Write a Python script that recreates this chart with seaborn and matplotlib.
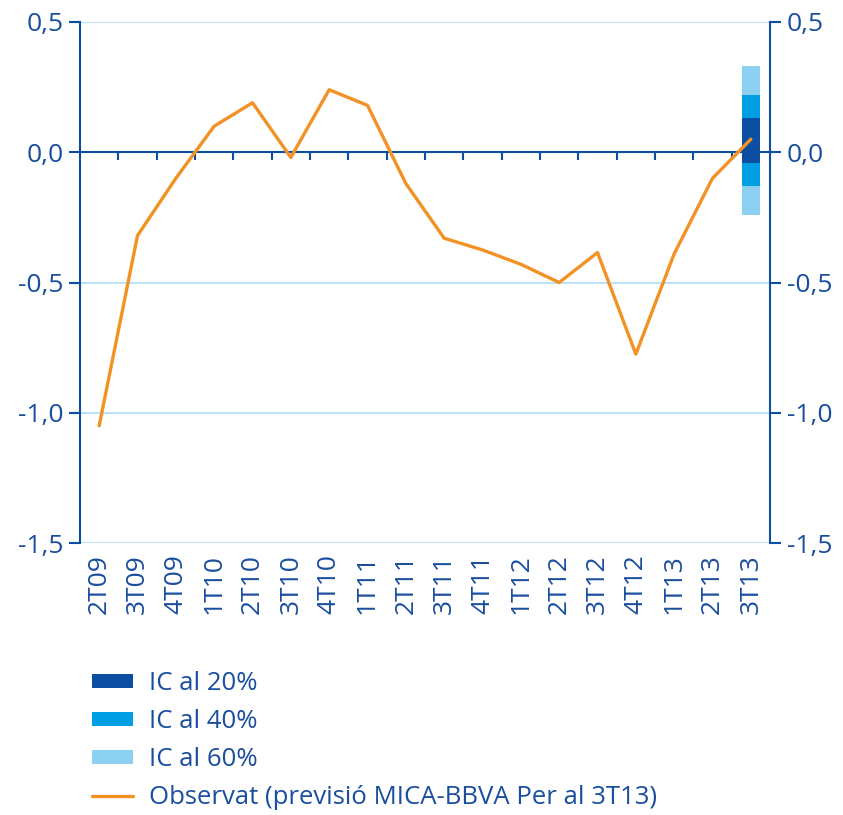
import matplotlib
matplotlib.use("Agg")
import matplotlib.pyplot as plt
import seaborn as sns
import numpy as np
import pandas as pd
from matplotlib.patches import Patch
from matplotlib.lines import Line2D

categories = ["2T09", "3T09", "4T09", "1T10", "2T10", "3T10", "4T10", "1T11", "2T11",
              "3T11", "4T11", "1T12", "2T12", "3T12", "4T12", "1T13", "2T13", "3T13"]
observat = [-1.05, -0.32, -0.10, 0.10, 0.19, -0.02, 0.24, 0.18, -0.12,
            -0.33, -0.375, -0.43, -0.50, -0.385, -0.775, -0.39, -0.10, 0.05]
ic_labels = ["IC al 60%", "IC al 40%", "IC al 20%"]
ic_low = [-0.24, -0.13, -0.04]
ic_high = [0.33, 0.22, 0.13]
ic_cat = "3T13"
yticks = [0.5, 0.0, -0.5, -1.0, -1.5]

DARK = "#0B4EA2"
MID = "#009EE2"
LIGHT = "#8CD1F2"
ORANGE = "#F39224"
GRID = "#B5E1F5"
TXT = "#1A4E9E"

sns.set_theme(style="white")
plt.rcParams['font.family'] = ['Open Sans', 'DejaVu Sans']

fig = plt.figure(figsize=(8.43, 8.15), dpi=100)
ax = fig.add_axes([80/843, 1-543/815, 690/843, 521/815])

df = pd.DataFrame({"x": np.arange(len(categories)), "y": observat})
sns.lineplot(data=df, x="x", y="y", ax=ax, color=ORANGE, linewidth=2.4, zorder=4)

xi = categories.index(ic_cat)
for lab, lo, hi, col in zip(ic_labels, ic_low, ic_high, [LIGHT, MID, DARK]):
    ax.bar([xi], [hi - lo], bottom=[lo], width=0.47, color=col, linewidth=0, zorder=3)

ax.set_xlim(-0.5, len(categories) - 0.5)
ax.set_ylim(-1.5, 0.5)
ax.set_yticks(yticks)
ax.set_yticklabels([f"{v:.1f}".replace(".", ",") for v in yticks])
ax.set_xticks(np.arange(len(categories)))
ax.set_xticklabels(categories, rotation=90)
ax.set_xlabel("")
ax.set_ylabel("")

ax.grid(axis="y", color=GRID, linewidth=1.3, zorder=0)
ax.grid(axis="x", visible=False)
for s in ["top", "bottom"]:
    ax.spines[s].set_visible(False)
ax.spines["left"].set_color(DARK)
ax.spines["left"].set_linewidth(1.5)
ax.spines["right"].set_visible(False)

TS = 19
ax.tick_params(axis="y", direction="out", length=8, width=1.5, color=DARK,
               labelcolor=TXT, labelsize=TS, pad=4, left=True)
ax.tick_params(axis="x", length=0, labelcolor=TXT, labelsize=TS, pad=8)

# zero axis
ax.axhline(0, color=DARK, linewidth=1.5, zorder=2)
sec = ax.secondary_xaxis(0.75)
sec.set_xticks(np.arange(len(categories) - 1) + 0.5)
sec.tick_params(direction="out", length=6, width=1.5, color=DARK, labelbottom=False,
                labeltop=False, bottom=True, top=False)
for s in sec.spines.values():
    s.set_visible(False)

ax2 = ax.twinx()
ax2.set_ylim(-1.5, 0.5)
ax2.set_yticks(yticks)
ax2.set_yticklabels([f"{v:.1f}".replace(".", ",") for v in yticks])
for s in ["top", "bottom", "left"]:
    ax2.spines[s].set_visible(False)
ax2.spines["right"].set_color(DARK)
ax2.spines["right"].set_linewidth(1.5)
ax2.tick_params(axis="y", direction="out", length=8, width=1.5, color=DARK,
                labelcolor=TXT, labelsize=TS, pad=4, right=True)
ax2.grid(False)

handles = [Patch(facecolor=DARK, edgecolor="none"),
           Patch(facecolor=MID, edgecolor="none"),
           Patch(facecolor=LIGHT, edgecolor="none"),
           Line2D([0], [0], color=ORANGE, linewidth=2.4)]
labels = ["IC al 20%", "IC al 40%", "IC al 60%", "Observat (previsió MICA-BBVA Per al 3T13)"]
leg = fig.legend(handles, labels, loc="upper left", bbox_to_anchor=(82/843, 1-661/815),
                 frameon=False, fontsize=18.5, handlelength=1.6, handleheight=0.45,
                 handletextpad=0.6, labelspacing=0.5, borderaxespad=0)
for t in leg.get_texts():
    t.set_color(TXT)

fig.savefig("out.png", dpi=100)
